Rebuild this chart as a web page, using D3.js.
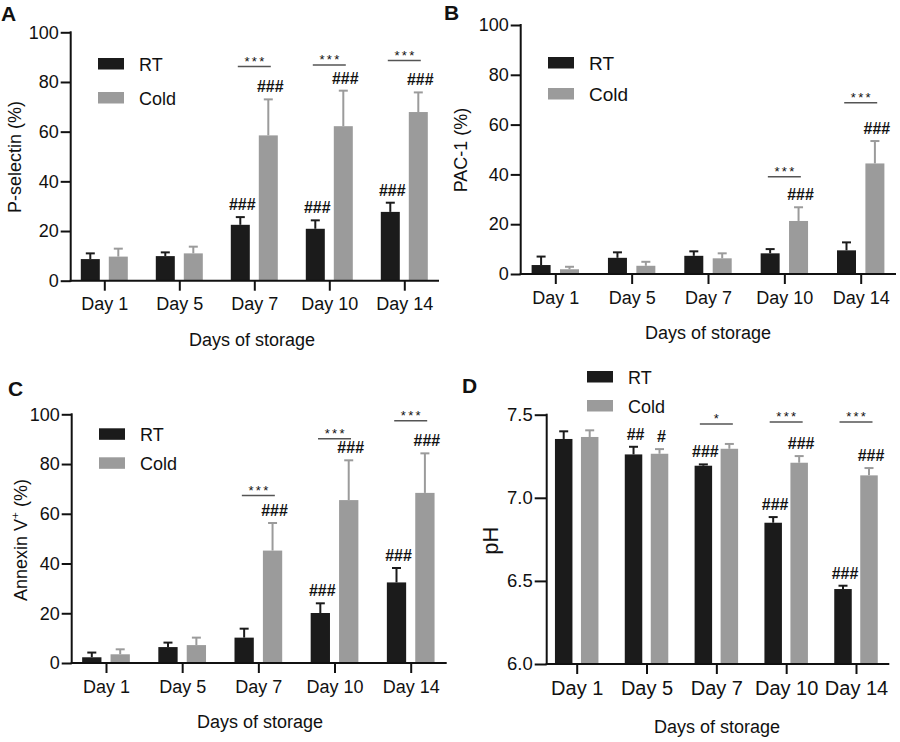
<!DOCTYPE html>
<html><head><meta charset="utf-8">
<script src="https://cdn.jsdelivr.net/npm/d3@7"></script>
<style>
body{margin:0;background:#fff}
svg{display:block}
text{font-family:"Liberation Sans", Arial, Helvetica, sans-serif; fill:#111;}
</style>
</head><body>
<svg id="chart" width="900" height="742"></svg>
<script>
// ---------- data ----------
const days = ["Day 1", "Day 5", "Day 7", "Day 10", "Day 14"];
const seriesNames = ["RT", "Cold"];

// Panel A: P-selectin (%)
const pselRT      = [8.7, 9.9, 22.5, 20.9, 27.7];
const pselRTErr   = [2.3, 1.5, 3.1, 3.4, 3.7];
const pselCold    = [9.7, 11.0, 58.5, 62.2, 67.9];
const pselColdErr = [3.2, 2.7, 14.5, 14.3, 7.9];
const pselRTMarks   = ["", "", "###", "###", "###"];
const pselColdMarks = ["", "", "###", "###", "###"];
const pselStars     = ["", "", "***", "***", "***"];
const pselStarLevel = [null, null, 86.2, 86.8, 88.6];

// Panel B: PAC-1 (%)
const pacRT      = [3.6, 6.5, 7.3, 8.3, 9.5];
const pacRTErr   = [3.4, 2.2, 1.8, 1.7, 3.2];
const pacCold    = [1.9, 3.3, 6.3, 21.3, 44.4];
const pacColdErr = [1.0, 1.6, 2.0, 5.5, 9.0];
const pacRTMarks   = ["", "", "", "", ""];
const pacColdMarks = ["", "", "", "###", "###"];
const pacStars     = ["", "", "", "***", "***"];
const pacStarLevel = [null, null, null, 39.1, 68.8];

// Panel C: Annexin V+ (%)
const annRT      = [2.3, 6.4, 10.2, 20.1, 32.4];
const annRTErr   = [1.9, 1.8, 3.6, 3.9, 5.8];
const annCold    = [3.5, 7.2, 45.2, 65.5, 68.4];
const annColdErr = [2.0, 3.0, 11.1, 16.0, 15.9];
const annRTMarks   = ["", "", "", "###", "###"];
const annColdMarks = ["", "", "###", "###", "###"];
const annStars     = ["", "", "***", "***", "***"];
const annStarLevel = [null, null, 67.3, 90.2, 97.4];

// Panel D: pH
const phRT      = [7.354, 7.261, 7.193, 6.850, 6.451];
const phRTErr   = [0.046, 0.046, 0.008, 0.034, 0.020];
const phCold    = [7.366, 7.265, 7.295, 7.211, 7.135];
const phColdErr = [0.040, 0.028, 0.029, 0.040, 0.044];
const phRTMarks   = ["", "##", "###", "###", "###"];
const phColdMarks = ["", "#", "", "###", "###"];
const phStars     = ["", "", "*", "***", "***"];
const phStarLevel = [null, null, 7.444, 7.456, 7.456];

const pctTicks = [0, 20, 40, 60, 80, 100];
const phTicks  = [6.0, 6.5, 7.0, 7.5];

// ---------- layout ----------
const RT_COLOR = "#1b1b1b", COLD_COLOR = "#9b9b9b";
const svg = d3.select("#chart");

const panels = [
  { label: "A", labelXY: [1, 21], yTitle: "P-selectin (%)", yTitleXY: [15, 157], xTitleXY: [252, 346],
    yDomain: [0, 100], yTicks: pctTicks, yFmt: d3.format("d"), yRange: [280.7, 32.3],
    axisX: 70.7, axisEnd: 439, xRange: [104.3, 404.3], barW: 19, off: 14,
    yTickLen: 10, xFont: 18, yFont: 18, yTitleFont: 18, legendXY: [98, 58], legendGap: 34, legendFont: 18,
    rt: pselRT, rtErr: pselRTErr, cold: pselCold, coldErr: pselColdErr,
    rtMarks: pselRTMarks, coldMarks: pselColdMarks, stars: pselStars, starLevel: pselStarLevel },
  { label: "B", labelXY: [444, 20], yTitle: "PAC-1 (%)", yTitleXY: [461, 150], xTitleXY: [708, 339],
    yDomain: [0, 100], yTicks: pctTicks, yFmt: d3.format("d"), yRange: [274, 25],
    axisX: 520.7, axisEnd: 896, xRange: [555.3, 860.7], barW: 19, off: 14.2,
    yTickLen: 10, xFont: 18, yFont: 18, yTitleFont: 18, legendXY: [548, 57], legendGap: 31, legendFont: 19,
    rt: pacRT, rtErr: pacRTErr, cold: pacCold, coldErr: pacColdErr,
    rtMarks: pacRTMarks, coldMarks: pacColdMarks, stars: pacStars, starLevel: pacStarLevel },
  { label: "C", labelXY: [8, 396], yTitle: "Annexin V", yTitleSup: "+", yTitleTail: " (%)", yTitleXY: [21, 540], xTitleXY: [260, 728],
    yDomain: [0, 100], yTicks: pctTicks, yFmt: d3.format("d"), yRange: [663, 414.3],
    axisX: 71.7, axisEnd: 446.7, xRange: [106, 410.7], barW: 19.3, off: 14.2,
    yTickLen: 10, xFont: 18, yFont: 18, yTitleFont: 18, legendXY: [99, 428.3], legendGap: 29, legendFont: 18,
    rt: annRT, rtErr: annRTErr, cold: annCold, coldErr: annColdErr,
    rtMarks: annRTMarks, coldMarks: annColdMarks, stars: annStars, starLevel: annStarLevel },
  { label: "D", labelXY: [462, 393], yTitle: "pH", yTitleXY: [490, 540.7], xTitleXY: [717, 733],
    yDomain: [6.0, 7.5], yTicks: phTicks, yFmt: d3.format(".1f"), yRange: [664, 414.7],
    axisX: 546.7, axisEnd: 889.3, xRange: [576.7, 856], barW: 17.5, off: 13,
    yTickLen: 12, xFont: 20, yFont: 18.5, yTitleFont: 22, legendXY: [587, 371], legendGap: 29, legendFont: 18,
    rt: phRT, rtErr: phRTErr, cold: phCold, coldErr: phColdErr,
    rtMarks: phRTMarks, coldMarks: phColdMarks, stars: phStars, starLevel: phStarLevel }
];

function drawPanel(p) {
  const g = svg.append("g");
  const x = d3.scalePoint().domain(days).range(p.xRange);
  const y = d3.scaleLinear().domain(p.yDomain).range(p.yRange);
  const base = y(p.yDomain[0]);

  const series = [
    { name: seriesNames[0], vals: p.rt, errs: p.rtErr, marks: p.rtMarks, color: RT_COLOR, dx: -p.off },
    { name: seriesNames[1], vals: p.cold, errs: p.coldErr, marks: p.coldMarks, color: COLD_COLOR, dx: p.off }
  ];

  series.forEach(s => {
    const rows = days.map((d, i) => ({ d, v: s.vals[i], e: s.errs[i], m: s.marks[i] }));
    const sg = g.append("g");
    sg.selectAll("line.err").data(rows).join("line")
      .attr("x1", r => x(r.d) + s.dx).attr("x2", r => x(r.d) + s.dx)
      .attr("y1", r => y(r.v)).attr("y2", r => y(r.v + r.e))
      .attr("stroke", s.color).attr("stroke-width", 2);
    sg.selectAll("line.cap").data(rows).join("line")
      .attr("x1", r => x(r.d) + s.dx - 4.5).attr("x2", r => x(r.d) + s.dx + 4.5)
      .attr("y1", r => y(r.v + r.e)).attr("y2", r => y(r.v + r.e))
      .attr("stroke", s.color).attr("stroke-width", 2);
    sg.selectAll("rect").data(rows).join("rect")
      .attr("x", r => x(r.d) + s.dx - p.barW / 2)
      .attr("y", r => y(r.v))
      .attr("width", p.barW)
      .attr("height", r => base - y(r.v))
      .attr("fill", s.color);
    sg.selectAll("text.mark").data(rows.filter(r => r.m)).join("text")
      .attr("x", r => x(r.d) + s.dx + 2)
      .attr("y", r => y(r.v + r.e) - 7)
      .attr("text-anchor", "middle")
      .attr("font-size", 16)
      .attr("font-weight", "bold")
      .text(r => r.m);
  });

  // significance bars
  const sig = days.map((d, i) => ({ d, s: p.stars[i], lv: p.starLevel[i] })).filter(r => r.s);
  const sw = 33;
  g.selectAll("line.sig").data(sig).join("line")
    .attr("x1", r => x(r.d) - sw / 2).attr("x2", r => x(r.d) + sw / 2)
    .attr("y1", r => y(r.lv)).attr("y2", r => y(r.lv))
    .attr("stroke", "#555").attr("stroke-width", 1.5);
  g.selectAll("text.sig").data(sig).join("text")
    .attr("x", r => x(r.d) + 1.2)
    .attr("y", r => y(r.lv) - 1)
    .attr("text-anchor", "middle")
    .attr("font-size", 13)
    .attr("letter-spacing", 2.3)
    .attr("fill", "#333")
    .text(r => r.s);

  // y axis
  const ya = g.append("g").attr("transform", `translate(${p.axisX},0)`)
    .call(d3.axisLeft(y).tickValues(p.yTicks).tickFormat(p.yFmt).tickSize(p.yTickLen).tickPadding(2));
  ya.select(".domain").remove();
  ya.selectAll(".tick line").attr("stroke", "#111").attr("stroke-width", 2);
  ya.selectAll(".tick text").attr("font-size", p.yFont).attr("fill", "#111")
    .attr("font-family", '"Liberation Sans", Arial, sans-serif');

  // x axis
  const xa = g.append("g").attr("transform", `translate(0,${base})`)
    .call(d3.axisBottom(x).tickSize(10).tickPadding(7));
  xa.select(".domain").remove();
  xa.selectAll(".tick line").attr("stroke", "#111").attr("stroke-width", 2);
  xa.selectAll(".tick text").attr("font-size", p.xFont).attr("fill", "#111")
    .attr("font-family", '"Liberation Sans", Arial, sans-serif');

  // axis lines
  g.append("line").attr("x1", p.axisX).attr("x2", p.axisX)
    .attr("y1", y(p.yDomain[1]) - 1).attr("y2", base + 1)
    .attr("stroke", "#111").attr("stroke-width", 2);
  g.append("line").attr("x1", p.axisX - 1).attr("x2", p.axisEnd)
    .attr("y1", base).attr("y2", base)
    .attr("stroke", "#111").attr("stroke-width", 2);

  // titles
  const yt = g.append("text")
    .attr("transform", `translate(${p.yTitleXY[0]},${p.yTitleXY[1]}) rotate(-90)`)
    .attr("text-anchor", "middle").attr("dominant-baseline", "central")
    .attr("font-size", p.yTitleFont);
  yt.append("tspan").text(p.yTitle);
  if (p.yTitleSup) {
    yt.append("tspan").attr("font-size", p.yTitleFont * 0.65).attr("dy", -7).text(p.yTitleSup);
    yt.append("tspan").attr("dy", 7).text(p.yTitleTail);
  }
  g.append("text").attr("x", p.xTitleXY[0]).attr("y", p.xTitleXY[1])
    .attr("text-anchor", "middle").attr("font-size", 18).text("Days of storage");

  // panel label
  g.append("text").attr("x", p.labelXY[0]).attr("y", p.labelXY[1])
    .attr("font-size", 21).attr("font-weight", "bold").text(p.label);

  // legend
  const lg = g.append("g").attr("transform", `translate(${p.legendXY[0]},${p.legendXY[1]})`);
  const leg = lg.selectAll("g").data(series).join("g")
    .attr("transform", (s, i) => `translate(0,${i * p.legendGap})`);
  leg.append("rect").attr("width", 26).attr("height", 11.5).attr("fill", s => s.color);
  leg.append("text").attr("x", 41).attr("y", 12.5).attr("font-size", p.legendFont).text(s => s.name);
}

panels.forEach(drawPanel);
</script>
</body></html>
